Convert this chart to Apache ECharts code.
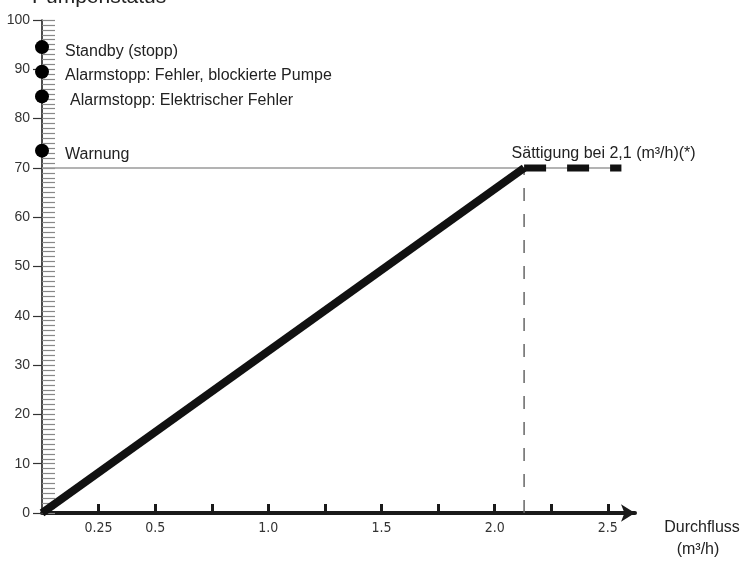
<!DOCTYPE html>
<html>
<head>
<meta charset="utf-8">
<script src="https://cdn.jsdelivr.net/npm/echarts@6/dist/echarts.min.js"></script>
<style>
  html, body { margin: 0; padding: 0; background: #fff; }
  #main { width: 744px; height: 563px; }
</style>
</head>
<body>
<div id="main"></div>
<script>
// Pumpenstatus (%) über Durchfluss (m³/h)
var statusLabels = ['Standby (stopp)', 'Alarmstopp: Fehler, blockierte Pumpe', 'Alarmstopp: Elektrischer Fehler', 'Warnung'];
var statusLevels = [94.5, 89.5, 84.5, 73.5];

var satFlow = 2.13;     // Sättigungspunkt
var satLevel = 70;
var satEndFlow = 2.56;  // Ende der gestrichelten Linie
var refLineEnd = 2.53;  // Ende der grauen 70-Linie
var satLabel = 'Sättigung bei 2,1 (m³/h)(*)';

var rampFlow = [0, satFlow];
var rampLevel = [0, satLevel];

var xTickValues = [0.25, 0.5, 0.75, 1.0, 1.25, 1.5, 1.75, 2.0, 2.25, 2.5];
var xLabelValues = [0.25, 0.5, 1.0, 1.5, 2.0, 2.5];
var xLabelTexts = ['0.25', '0.5', '1.0', '1.5', '2.0', '2.5'];

var myChart = echarts.init(document.getElementById('main'));

var option = {
  animation: false,
  backgroundColor: '#fff',
  grid: { left: 42, top: 20, right: 109, bottom: 50 },
  xAxis: {
    type: 'value',
    min: 0,
    max: 2.62,
    axisLine: {
      lineStyle: { color: '#1a1a1a', width: 4 },
      symbol: ['none', 'arrow'],
      symbolSize: [13, 14]
    },
    axisTick: {
      inside: true,
      length: 9,
      customValues: xTickValues,
      lineStyle: { color: '#1a1a1a', width: 3 }
    },
    axisLabel: {
      customValues: xLabelValues,
      formatter: function (v) {
        var i = xLabelValues.indexOf(v);
        return i >= 0 ? xLabelTexts[i] : '';
      },
      margin: 8,
      fontSize: 14,
      color: '#333',
      fontFamily: "'DejaVu Sans Condensed', 'DejaVu Sans', sans-serif"
    },
    splitLine: { show: false }
  },
  yAxis: [
    {
      type: 'value',
      min: 0,
      max: 100,
      interval: 10,
      position: 'left',
      axisLine: { show: true, lineStyle: { color: '#111', width: 1.5 } },
      axisTick: { show: true, length: 9, lineStyle: { color: '#333', width: 1.2 } },
      axisLabel: { margin: 12, fontSize: 14, color: '#333', fontFamily: "'Liberation Sans', Arial, sans-serif" },
      splitLine: { show: false }
    },
    {
      // feine Skala rechts der Achse
      type: 'value',
      min: 0,
      max: 100,
      interval: 1,
      position: 'left',
      axisLine: { show: false },
      axisTick: { show: true, inside: true, length: 13, lineStyle: { color: '#888', width: 1.2 } },
      axisLabel: { show: false },
      splitLine: { show: false }
    }
  ],
  graphic: [
    {
      type: 'text',
      style: {
        x: 32, y: 8, text: 'Pumpenstatus', fill: '#222',
        font: "21px 'Liberation Sans', Arial, sans-serif",
        textAlign: 'left', textVerticalAlign: 'bottom'
      }
    },
    {
      type: 'text',
      style: {
        x: 702, y: 528, text: 'Durchfluss', fill: '#222',
        font: "16px 'Liberation Sans', Arial, sans-serif",
        textAlign: 'center', textVerticalAlign: 'middle'
      }
    },
    {
      type: 'text',
      style: {
        x: 698, y: 550, text: '(m³/h)', fill: '#222',
        font: "16px 'Liberation Sans', Arial, sans-serif",
        textAlign: 'center', textVerticalAlign: 'middle'
      }
    }
  ],
  series: [
    {
      // graue Linie bei 70
      type: 'line',
      data: [[0, satLevel], [refLineEnd, satLevel]],
      symbol: 'none',
      lineStyle: { color: '#9a9a9a', width: 1.5 },
      z: 1
    },
    {
      // senkrechte Hilfslinie
      type: 'line',
      data: [[satFlow, 0], [satFlow, satLevel]],
      symbol: 'none',
      lineStyle: { color: '#666', width: 1.5, type: [13, 13] },
      z: 1
    },
    {
      type: 'line',
      data: rampFlow.map(function (f, i) { return [f, rampLevel[i]]; }),
      symbol: 'none',
      lineStyle: { color: '#111', width: 8, cap: 'butt' },
      z: 3
    },
    {
      type: 'line',
      data: [[satFlow, satLevel], [satEndFlow, satLevel]],
      symbol: 'none',
      lineStyle: { color: '#111', width: 7, type: [22, 21], cap: 'butt' },
      z: 3
    },
    {
      type: 'scatter',
      symbolSize: 14,
      itemStyle: { color: '#000', opacity: 1 },
      data: statusLabels.map(function (t, i) {
        return {
          name: t,
          value: [0, statusLevels[i]],
          label: { distance: i === 2 ? 21 : 16 }
        };
      }),
      label: {
        show: true,
        position: 'right',
        formatter: '{b}',
        offset: [0, 4],
        fontSize: 16,
        color: '#222',
        fontFamily: "'Liberation Sans', Arial, sans-serif"
      },
      z: 5
    },
    {
      type: 'scatter',
      symbolSize: 1,
      itemStyle: { color: 'transparent', opacity: 1 },
      data: [{ name: satLabel, value: [satFlow, satLevel] }],
      label: {
        show: true,
        position: [-12, -22],
        formatter: '{b}',
        fontSize: 16,
        color: '#222',
        fontFamily: "'Liberation Sans', Arial, sans-serif"
      },
      z: 5
    }
  ]
};

myChart.setOption(option);
</script>
</body>
</html>
